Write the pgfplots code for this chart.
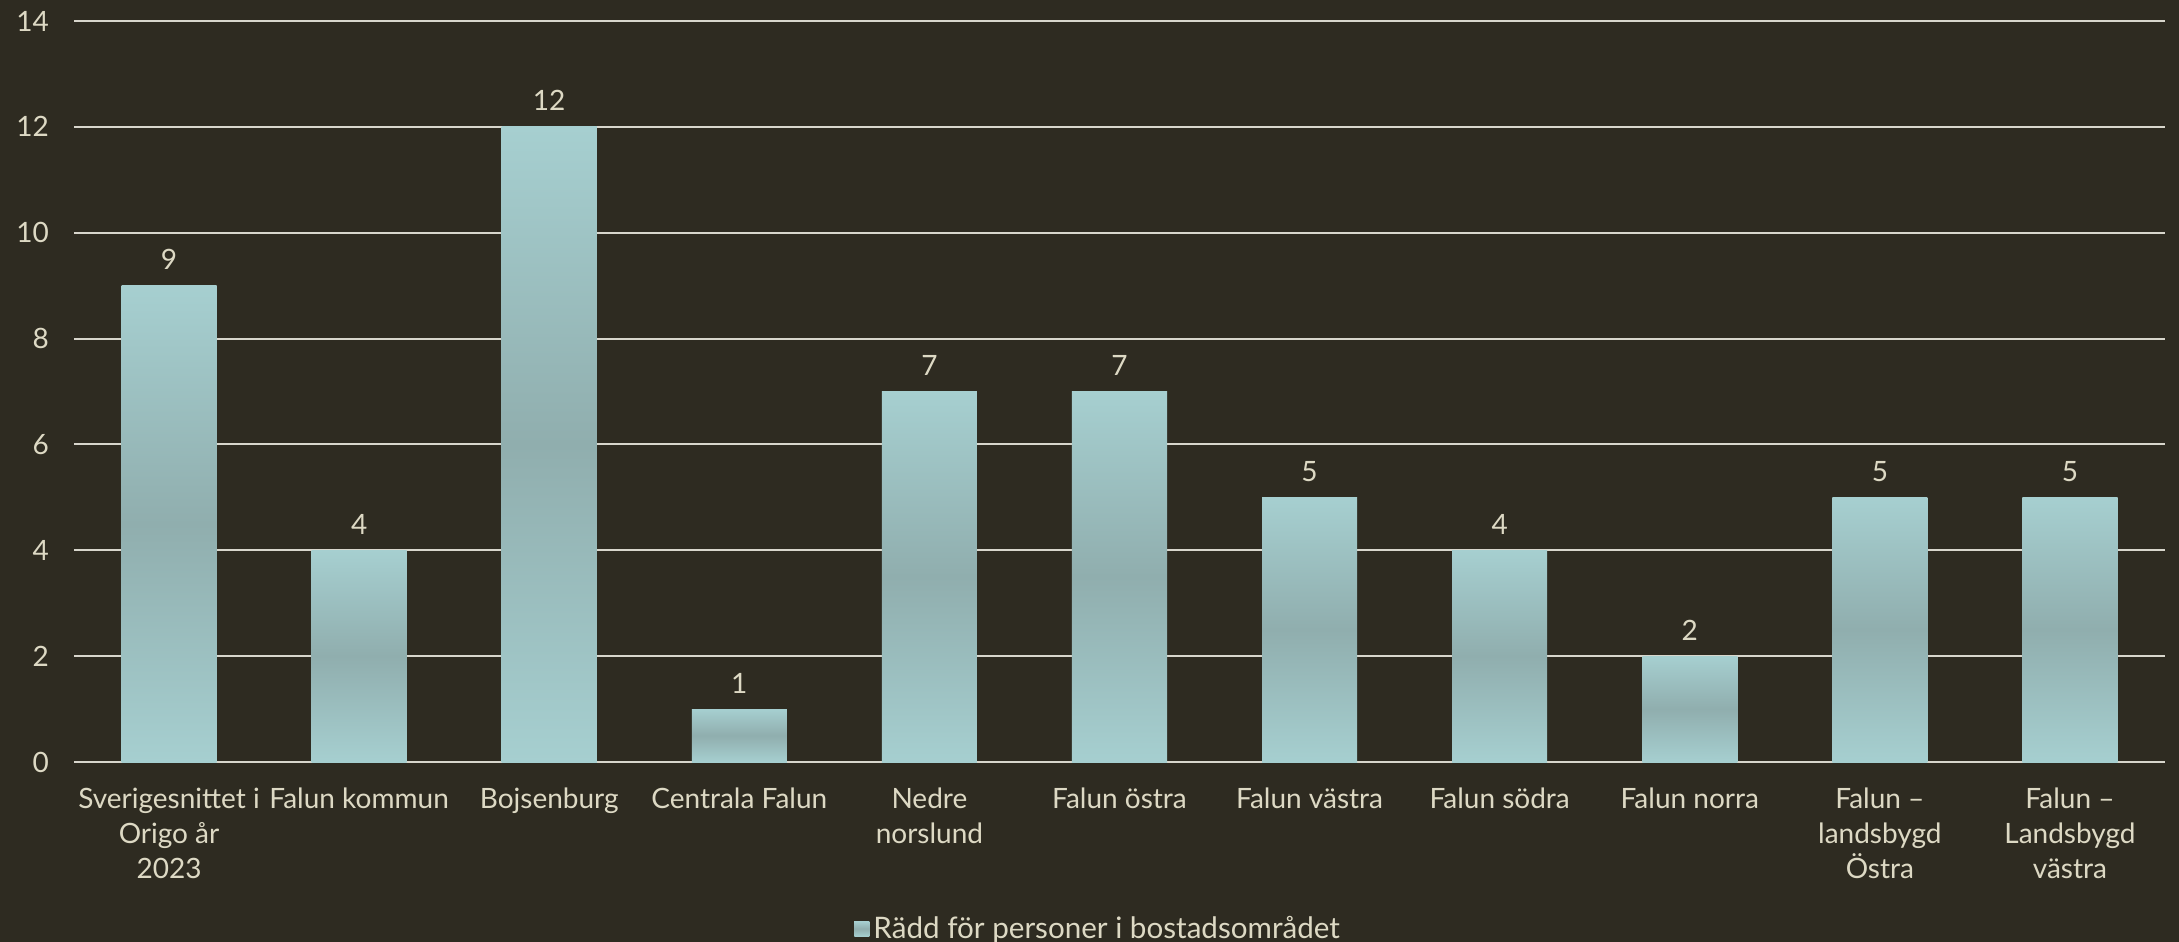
\documentclass[border=0pt]{standalone}
\usepackage{pgfplots}
\pgfplotsset{compat=1.18}
\usepackage{fontspec}
\setmainfont{Lato}
\definecolor{bg}{HTML}{2E2B21}
\definecolor{txt}{HTML}{DDD9C4}
\definecolor{gridc}{HTML}{D8D6CC}
\definecolor{barout}{HTML}{A6CFD0}
\definecolor{barin}{HTML}{90AEAE}
\begin{document}
\begin{tikzpicture}[x=1pt,y=1pt]
\fill[bg] (-37,-90) rectangle (1052.5,381);
\begin{axis}[
  at={(0,0)}, anchor=south west,
  scale only axis, width=1045.5pt, height=370.5pt,
  xmin=-0.5, xmax=10.5, ymin=0, ymax=14,
  ytick={0,2,...,14},
  xtick={0,...,10},
  xticklabels={{Sverigesnittet i\\Origo år\\2023},{Falun kommun},{Bojsenburg},{Centrala Falun},{Nedre\\norslund},{Falun östra},{Falun västra},{Falun södra},{Falun norra},{Falun –\\landsbygd\\Östra},{Falun –\\Landsbygd\\västra}},
  /pgf/number format/assume math mode=true,
  xticklabel style={align=center, font=\fontsize{14}{17.4}\selectfont, text=txt, anchor=north, yshift=-9.5pt},
  yticklabel style={font=\fontsize{14}{16}\selectfont, text=txt, anchor=east, xshift=-9pt},
  major tick length=0pt,
  axis line style={draw=none},
  ymajorgrids, grid style={gridc, line width=1pt},
  ybar, bar width=0.5, bar shift=0pt,
  nodes near coords,
  every node near coord/.append style={font=\fontsize{14}{16}\selectfont, text=txt, anchor=south, yshift=4.5pt},
  legend style={at={(0.4903,-0.2257)}, anchor=center, draw=none, fill=none, text=txt, font=\fontsize{14.8}{17}\selectfont},
  legend image code/.code={\fill[barout] (0pt,-3.5pt) rectangle (7.5pt,4pt);},
  barstyle/.style={draw=none, top color=barout, bottom color=barout, middle color=barin},
]
\addplot[barstyle] coordinates {(0,9)};
\addlegendentry{Rädd för personer i bostadsområdet}
\addplot[barstyle, forget plot] coordinates {(1,4)};
\addplot[barstyle, forget plot] coordinates {(2,12)};
\addplot[barstyle, forget plot] coordinates {(3,1)};
\addplot[barstyle, forget plot] coordinates {(4,7)};
\addplot[barstyle, forget plot] coordinates {(5,7)};
\addplot[barstyle, forget plot] coordinates {(6,5)};
\addplot[barstyle, forget plot] coordinates {(7,4)};
\addplot[barstyle, forget plot] coordinates {(8,2)};
\addplot[barstyle, forget plot] coordinates {(9,5)};
\addplot[barstyle, forget plot] coordinates {(10,5)};
\end{axis}
\pgfresetboundingbox
\path (-37,-90) rectangle (1052.5,381);
\end{tikzpicture}
\end{document}
